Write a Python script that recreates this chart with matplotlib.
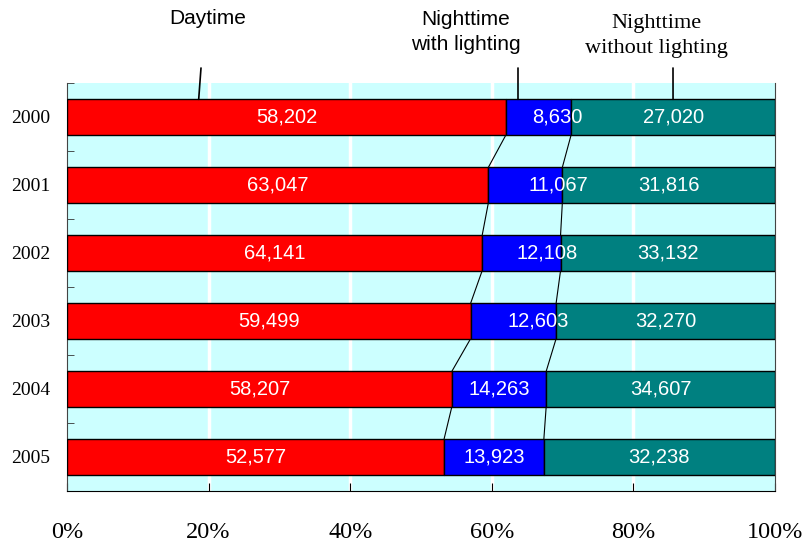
import numpy as np
import matplotlib.pyplot as plt

years = ['2000', '2001', '2002', '2003', '2004', '2005']
daytime = [58202, 63047, 64141, 59499, 58207, 52577]
night_lit = [8630, 11067, 12108, 12603, 14263, 13923]
night_dark = [27020, 31816, 33132, 32270, 34607, 32238]
series_names = ['Daytime', 'Nighttime\nwith lighting', 'Nighttime\nwithout lighting']
colors = ['#FF0000', '#0000FF', '#008080']
xticks = [0, 20, 40, 60, 80, 100]

vals = np.array([daytime, night_lit, night_dark], dtype=float)
pct = vals / vals.sum(axis=0) * 100
left = np.vstack([np.zeros(len(years)), np.cumsum(pct, axis=0)[:-1]])
y = np.arange(len(years))
h = 0.52

fig = plt.figure(figsize=(8.05, 5.47), dpi=100)
ax = fig.add_axes([67/805, 56/547, 708/805, 408/547])
ax.set_facecolor('#CCFFFF')

for k in range(3):
    ax.barh(y, pct[k], left=left[k], height=h, color=colors[k],
            edgecolor='black', linewidth=1.0, zorder=3)

# series lines between bars
for k in (1, 2):
    for i in range(len(years) - 1):
        ax.plot([left[k][i], left[k][i + 1]], [i + h/2, i + 1 - h/2],
                color='black', lw=0.8, zorder=2)

# value labels (blue ones nudged right a bit like the original)
nudge = [2.6, 4.6, 3.6, 3.5, 0, 0]
for i in range(len(years)):
    for k in range(3):
        cx = left[k][i] + pct[k][i] / 2
        if k == 1:
            cx += nudge[i]
        ax.text(cx, i, f'{int(vals[k][i]):,}', ha='center', va='center',
                color='white', fontsize=14.5, family='Liberation Sans', zorder=5)

ax.set_xlim(0, 100)
ax.set_ylim(len(years) - 0.5, -0.5)
ax.set_xticks(xticks)
ax.set_xticklabels([f'{t}%' for t in xticks], family='Liberation Serif', fontsize=17.5)
ax.tick_params(axis='x', direction='in', length=6, pad=22, color='black')
ax.set_yticks(y)
ax.set_yticklabels(years, family='Liberation Serif', fontsize=14)
ax.tick_params(axis='y', which='major', length=0, pad=12)
ax.set_yticks(np.arange(-0.5, len(years)), minor=True)
ax.tick_params(axis='y', which='minor', direction='in', length=5, color='#333333')

for t in xticks[1:-1]:
    ax.axvline(t, color='white', lw=2.5, zorder=1)

ax.spines['top'].set_visible(False)
ax.spines['left'].set_color('#444444')
ax.spines['right'].set_color('#444444')
ax.spines['bottom'].set_color('black')

# category labels with leader lines
tips = [18.6, 63.7, 85.6]
text_pos = [(208/805, 1 - 19/547), (466/805, 1 - 32/547), (656/805, 1 - 36/547)]
fams = ['Liberation Sans', 'Liberation Sans', 'Liberation Serif']
sizes = [15, 15, 16]
for k in range(3):
    ax.text(text_pos[k][0], text_pos[k][1], series_names[k], transform=fig.transFigure,
            ha='center', va='center', fontsize=sizes[k], family=fams[k], linespacing=1.45)
tail_x = [201/805, 518/805, 673/805]
for k in range(3):
    ax.annotate('', xy=(tips[k], -h/2), xycoords='data',
                xytext=(tail_x[k], 1 - 68/547), textcoords='figure fraction',
                arrowprops=dict(arrowstyle='-', color='black', lw=1.2,
                                shrinkA=0, shrinkB=0))

fig.savefig('out.png', dpi=100)
